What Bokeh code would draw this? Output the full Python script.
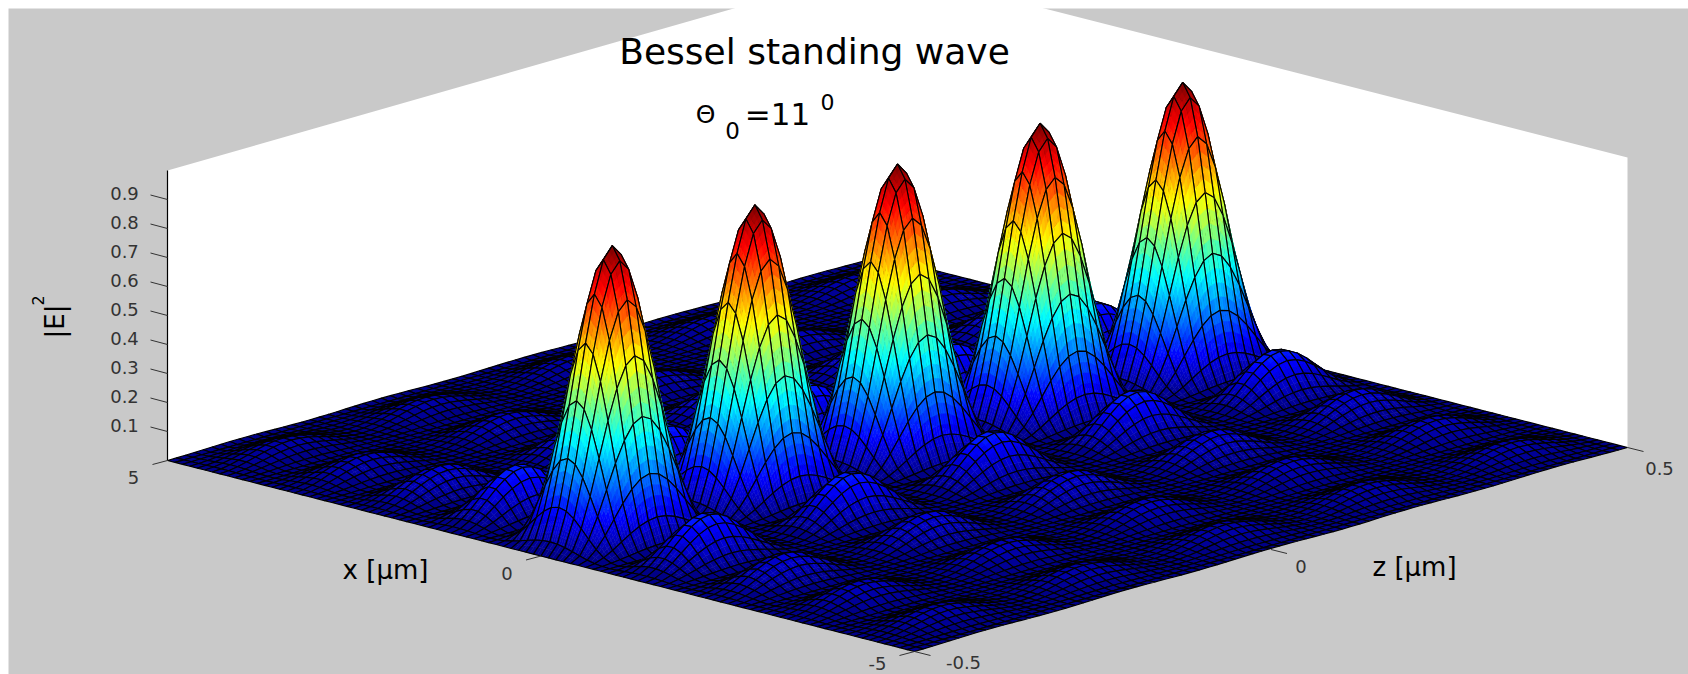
from math import pi
from bokeh.plotting import figure
from bokeh.models import Range1d
from bokeh.core.properties import value
from bokeh.embed import file_html
from bokeh.resources import INLINE

# |E|^2 profile across x, read at 0, 0.1, ... 5 um (mirrored for negative x)
x_profile = [1.000, 0.954, 0.826, 0.640, 0.437, 0.247, 0.104, 0.022, 0.000, 0.026,
             0.076, 0.126, 0.156, 0.158, 0.133, 0.091, 0.046, 0.013, 0.000, 0.008,
             0.031, 0.060, 0.081, 0.090, 0.081, 0.061, 0.035, 0.013, 0.001, 0.003,
             0.016, 0.035, 0.052, 0.062, 0.059, 0.046, 0.031, 0.013, 0.002, 0.001,
             0.008, 0.022, 0.035, 0.046, 0.047, 0.039, 0.027, 0.014, 0.004, 0.000, 0.004]
# standing-wave profile along z, read at 0, 0.0125, ... 0.5 um (mirrored for negative z)
z_profile = [1.00, 0.96, 0.85, 0.69, 0.50, 0.31, 0.15, 0.04,
             0.00, 0.04, 0.15, 0.31, 0.50, 0.69, 0.85, 0.96,
             1.00, 0.96, 0.85, 0.69, 0.50, 0.31, 0.15, 0.04,
             0.00, 0.04, 0.15, 0.31, 0.50, 0.69, 0.85, 0.96,
             1.00, 0.96, 0.85, 0.69, 0.50, 0.31, 0.15, 0.04, 0.00]
e_ticks = [0.1, 0.2, 0.3, 0.4, 0.5, 0.6, 0.7, 0.8, 0.9]
e_labels = ["0.1", "0.2", "0.3", "0.4", "0.5", "0.6", "0.7", "0.8", "0.9"]
x_ticks = [5, 0, -5]
x_labels = ["5", "0", "-5"]
z_ticks = [-0.5, 0, 0.5]
z_labels = ["-0.5", "0", "0.5"]
title = "Bessel standing wave"

x_span, z_span = 5.0, 0.5
n_half = len(x_profile) - 1
m_half = len(z_profile) - 1

# view: screen pixels of the floor corners and of one unit of |E|^2
LEFT, FRONT, RIGHT = (167.0, 460.0), (914.0, 651.0), (1627.0, 447.0)
UNIT = 290.0


def project(x, z, e):
    tx = (x + x_span) / (2 * x_span)
    tz = (z + z_span) / (2 * z_span)
    sx = FRONT[0] + tx * (LEFT[0] - FRONT[0]) + tz * (RIGHT[0] - FRONT[0])
    sy = FRONT[1] + tx * (LEFT[1] - FRONT[1]) + tz * (RIGHT[1] - FRONT[1]) - UNIT * e
    return sx, sy


def jet(v):
    v = min(max(v, 0.0), 0.9999)
    v = (int(v * 64) + 0.5) / 64
    r = min(max(min(4 * v - 1.5, -4 * v + 4.5), 0), 1)
    g = min(max(min(4 * v - 0.5, -4 * v + 3.5), 0), 1)
    b = min(max(min(4 * v + 0.5, -4 * v + 2.5), 0), 1)
    return "#%02x%02x%02x" % (int(r * 255), int(g * 255), int(b * 255))


p = figure(width=1688, height=674, output_backend="svg", toolbar_location=None,
           x_range=Range1d(0, 1688), y_range=Range1d(674, 0),
           background_fill_color="white", border_fill_color="white",
           min_border=0, outline_line_color=None)
p.axis.visible = False
p.grid.visible = False

# page backdrop
p.quad(left=[8], right=[1688], top=[8], bottom=[674], fill_color="#c9c9c9", line_color=None)

# walls
xs0, ys0 = zip(*[project(x_span, -z_span, 0), project(x_span, z_span, 0),
                 project(-x_span, z_span, 0), project(-x_span, z_span, 1),
                 project(x_span, z_span, 1), project(x_span, -z_span, 1)])
p.patch(list(xs0), list(ys0), fill_color="white", line_color=None)
a, b = project(x_span, -z_span, 0), project(x_span, -z_span, 1)
p.line([a[0], b[0]], [a[1], b[1]], line_color="black", line_width=1.2)

# surface, painted from the back corner to the front corner, colour blended inside steep cells
xv = [x_span * i / n_half for i in range(-n_half, n_half + 1)]
zv = [z_span * j / m_half for j in range(-m_half, m_half + 1)]
surf = [[x_profile[abs(i)] * z_profile[abs(j)] for j in range(-m_half, m_half + 1)]
        for i in range(-n_half, n_half + 1)]

cx, cy, fc, fa, lc, lw = [], [], [], [], [], []


def add(pts, fill, alpha, line, width):
    cx.append([q[0] for q in pts])
    cy.append([q[1] for q in pts])
    fc.append(fill)
    fa.append(alpha)
    lc.append(line)
    lw.append(width)


for i in range(len(xv) - 2, -1, -1):
    for j in range(len(zv) - 2, -1, -1):
        e00, e10 = surf[i][j], surf[i + 1][j]
        e11, e01 = surf[i + 1][j + 1], surf[i][j + 1]
        rng = max(e00, e10, e11, e01) - min(e00, e10, e11, e01)
        k = 1 if rng < 0.02 else 2 if rng < 0.05 else 3 if rng < 0.09 else 4
        corner = [(xv[i], zv[j], e00), (xv[i + 1], zv[j], e10),
                  (xv[i + 1], zv[j + 1], e11), (xv[i], zv[j + 1], e01)]
        outline = [project(*c) for c in corner]
        if k == 1:
            add(outline, jet((e00 + e10 + e11 + e01) / 4), 1.0, "black", 1.15)
            continue

        def at(u, w):
            x_ = xv[i] + u * (xv[i + 1] - xv[i])
            z_ = zv[j] + w * (zv[j + 1] - zv[j])
            e_ = e00 * (1 - u) * (1 - w) + e10 * u * (1 - w) + e11 * u * w + e01 * (1 - u) * w
            return x_, z_, e_

        for su in range(k):
            for sw in range(k):
                u0, u1, w0, w1 = su / k, (su + 1) / k, sw / k, (sw + 1) / k
                col = jet(at((u0 + u1) / 2, (w0 + w1) / 2)[2])
                add([project(*at(u0, w0)), project(*at(u1, w0)),
                     project(*at(u1, w1)), project(*at(u0, w1))], col, 1.0, col, 0.4)
        add(outline, "black", 0.0, "black", 1.15)

p.patches(cx, cy, fill_color=fc, fill_alpha=fa, line_color=lc, line_width=lw)

tick_col = "#333333"
font = value("DejaVu Sans")


def label(x, y, txt, size, col="black", angle=0.0):
    p.text([x], [y], text=[txt], text_font=font, text_font_size=f"{size}px",
           text_color=col, text_align="center", text_baseline="middle", angle=angle)


# height axis
for v, s in zip(e_ticks, e_labels):
    sx, sy = project(x_span, -z_span, v)
    p.line([sx, sx - 17], [sy, sy - 4.5], line_color=tick_col, line_width=1)
    label(sx - 43, sy - 6, s, 18, tick_col)

# x axis
offs = {5: (-34, 17), 0: (-34, 17), -5: (-37, 12)}
for v, s in zip(x_ticks, x_labels):
    sx, sy = project(v, -z_span, 0)
    p.line([sx, sx - 15], [sy, sy + 4], line_color=tick_col, line_width=1)
    label(sx + offs[v][0], sy + offs[v][1], s, 18, tick_col)

# z axis
offs = {-0.5: (49, 11), 0: (30, 17), 0.5: (32, 21)}
for v, s in zip(z_ticks, z_labels):
    sx, sy = project(-x_span, v, 0)
    p.line([sx, sx + 16], [sy, sy + 4], line_color=tick_col, line_width=1)
    label(sx + offs[v][0], sy + offs[v][1], s, 18, tick_col)

# titles and axis names
label(814, 51, title, 36)
label(705, 114, "\u0398", 25)
label(732, 130, "0", 23)
label(777, 113, "=11", 31)
label(827, 101, "0", 22)
label(385, 569, "x [\u00b5m]", 26)
label(1414, 566, "z [\u00b5m]", 26)
label(54, 321, "|E|", 26, angle=pi / 2)
label(37, 300, "2", 16, angle=pi / 2)

open("out.html", "w").write(file_html(p, INLINE))
